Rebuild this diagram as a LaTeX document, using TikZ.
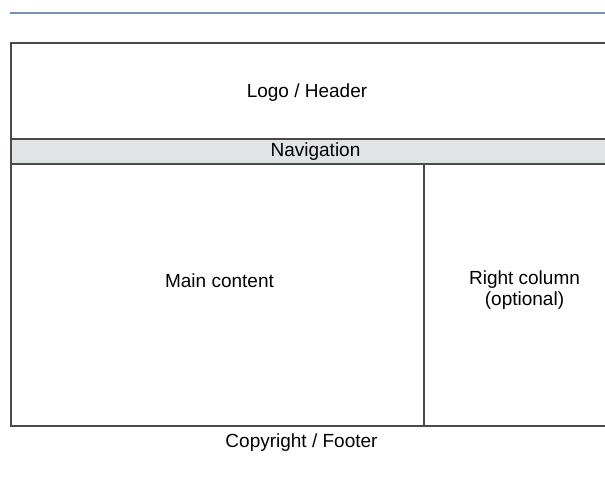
\documentclass[tikz,border=0pt]{standalone}
\usepackage{fontspec}
\setmainfont{Liberation Sans}
\usepackage{xcolor}
\definecolor{pageRule}{HTML}{7892AD}
\definecolor{frameLine}{HTML}{4A4A4A}
\definecolor{navFill}{HTML}{E1E4E5}
\usetikzlibrary{positioning}

\begin{document}
\begin{tikzpicture}[
  x=1pt, y=-1pt,
  font=\fontsize{19}{21.5}\selectfont,
  frame/.style={draw=frameLine, line width=1.5pt},
  navbar/.style={frame, fill=navFill},
  label/.style={align=center, text=black, inner sep=0pt, anchor=base}
]
\useasboundingbox (0,0) rectangle (605,482);
\clip (0,0) rectangle (605,482);

% Rule above the page
\draw[pageRule, line width=2pt] (10,12.5) -- (605,12.5);

% Page frame, navigation band and column split
\draw[frame] (11,43) rectangle (620,426);
\draw[navbar] (11,139) rectangle (620,164);
\draw[frame] (424,164) -- (424,426);

% Region labels (placed by baseline, last line for the two-line one)
\node[label] (header) at (307,97) {Logo / Header};
\node[label] (nav) at (315.5,156) {Navigation};
\node[label] (main) at (219.5,287) {Main content};
\node[label] (right) at (524.5,305.5) {Right column\\(optional)};
\node[label] (footer) at (301.5,447) {Copyright / Footer};

\end{tikzpicture}
\end{document}
